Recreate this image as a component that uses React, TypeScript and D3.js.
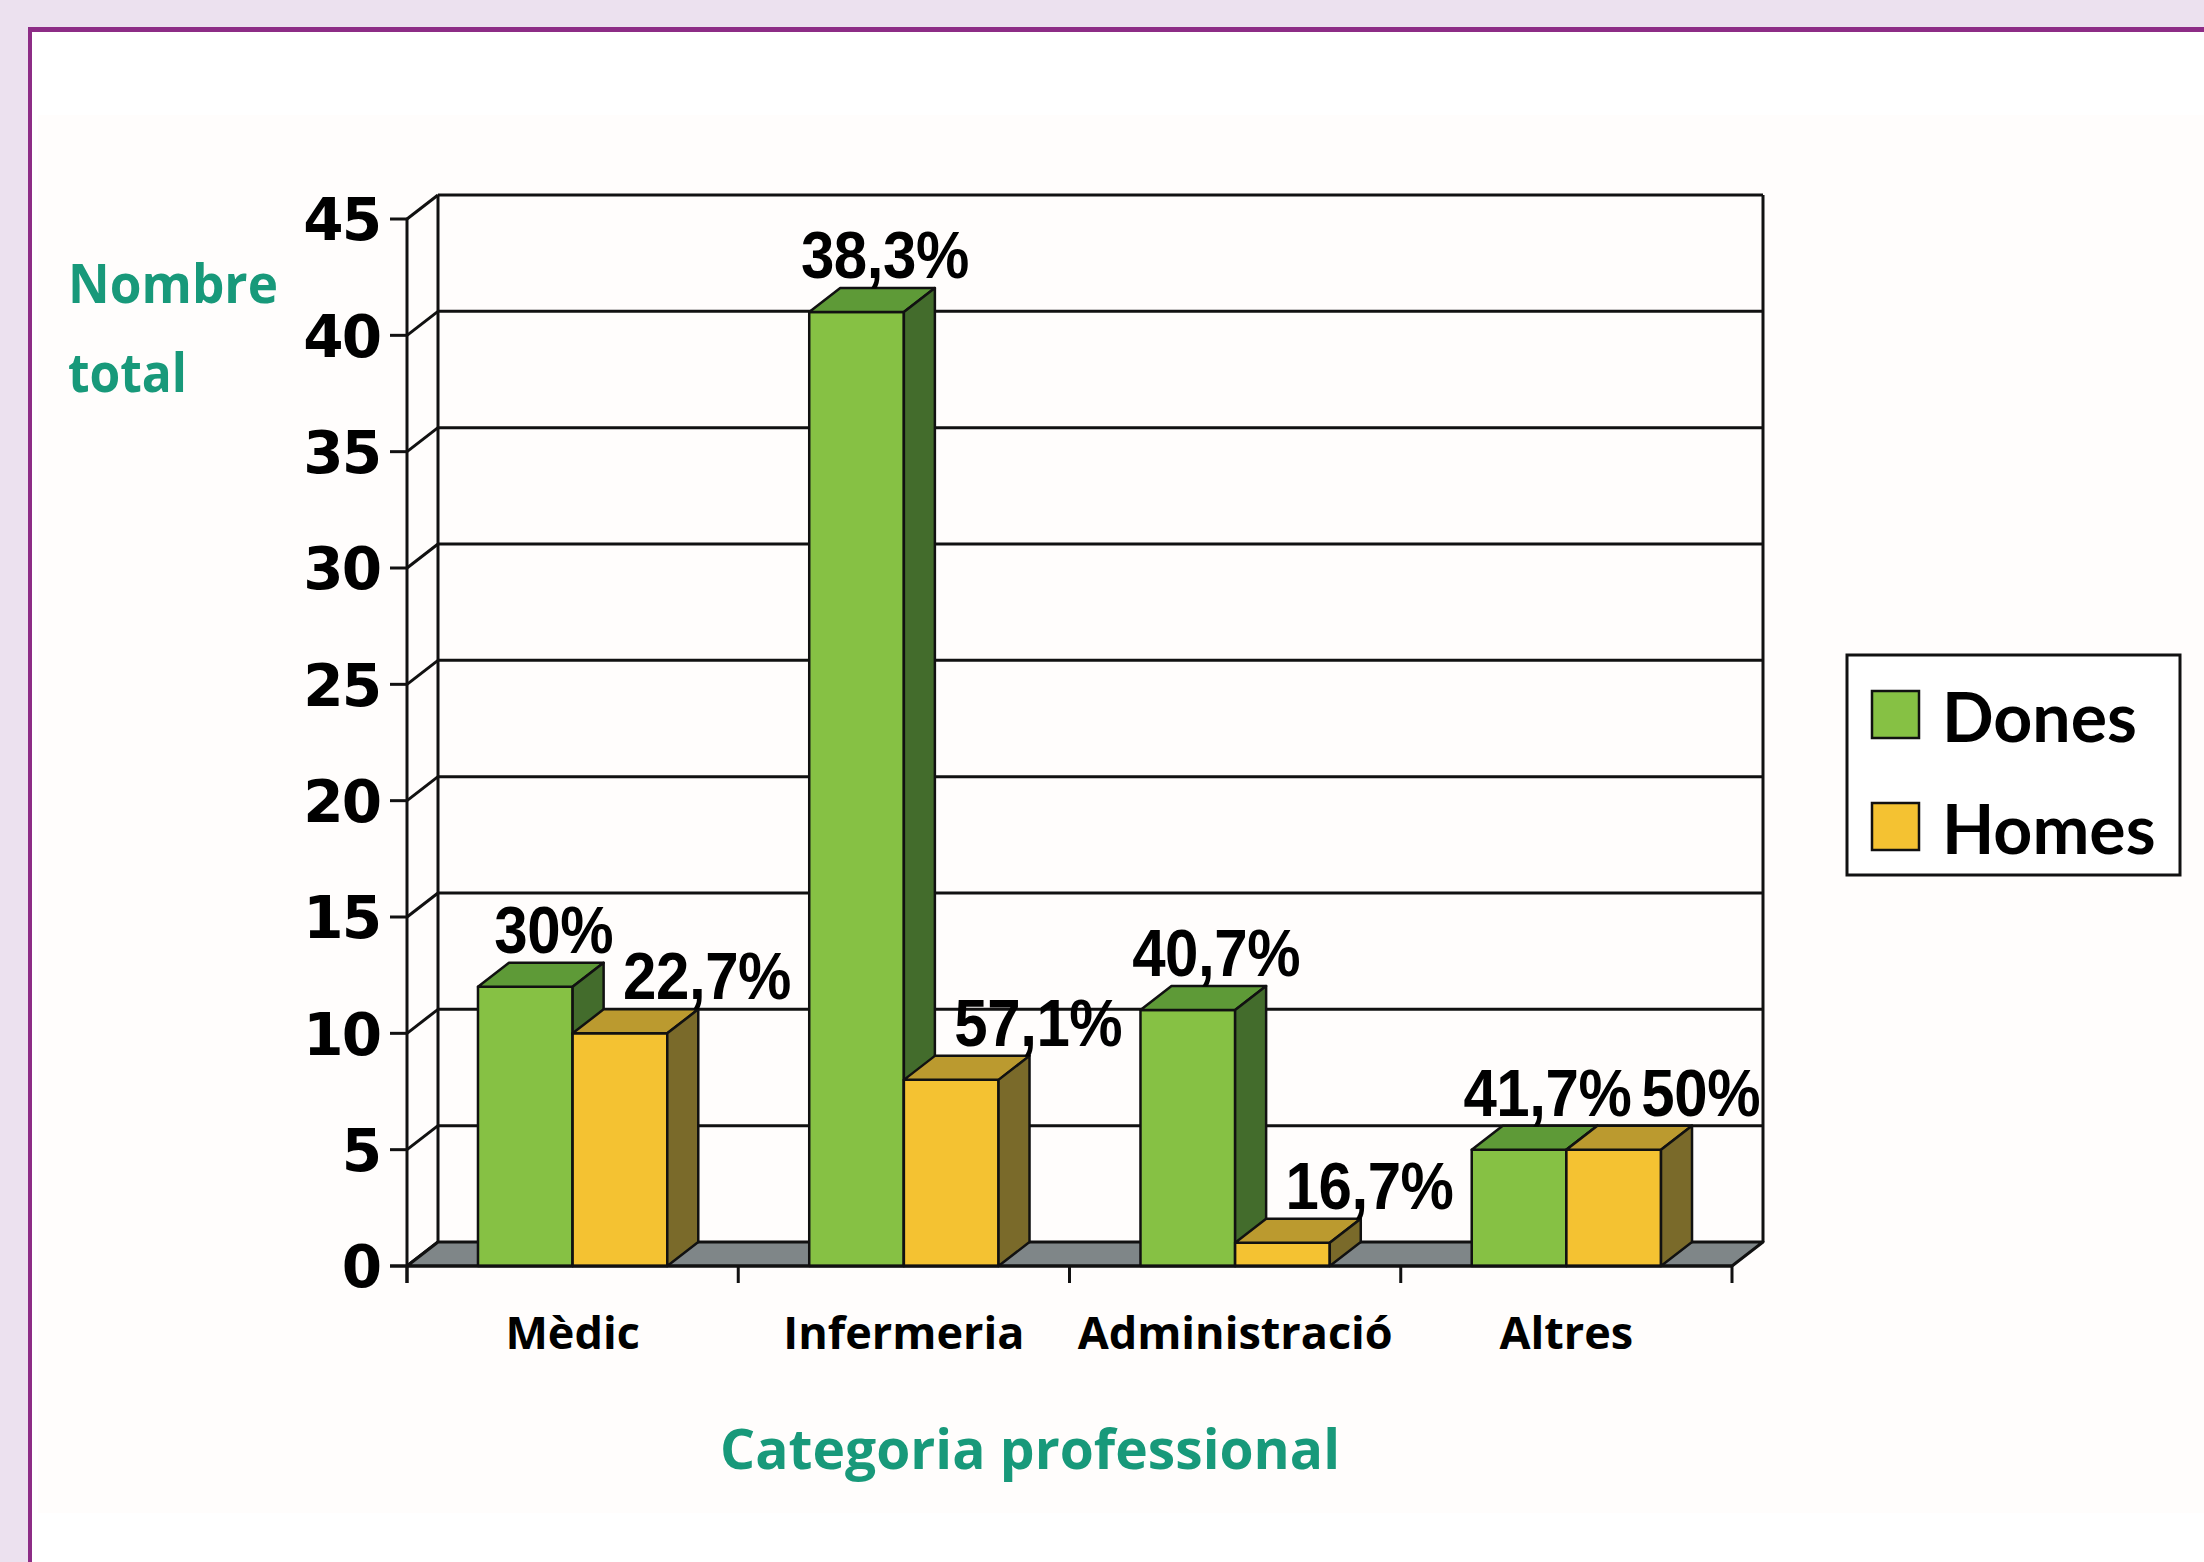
import React from "react";
import * as d3 from "d3";

// ---- data ----
const categories = ["Mèdic", "Infermeria", "Administració", "Altres"];
const seriesNames = ["Dones", "Homes"];
const donesValues = [12, 41, 11, 5];
const homesValues = [10, 8, 1, 5];
const donesLabels = ["30%", "38,3%", "40,7%", "41,7%"];
const homesLabels = ["22,7%", "57,1%", "16,7%", "50%"];
const yTicks = [0, 5, 10, 15, 20, 25, 30, 35, 40, 45];
const yTitle = ["Nombre", "total"];
const xTitle = "Categoria professional";

// ---- layout / style ----
const W = 2204;
const H = 1562;
const X0 = 407;
const X1 = 1732;
const Y0 = 1266;
const YTOP = 219;
const DX = 31;
const DY = 24;
const TICK = 17;

const colors: Record<string, { front: string; top: string; side: string }> = {
  Dones: { front: "#86c144", top: "#5e9a37", side: "#436c2c" },
  Homes: { front: "#f4c232", top: "#bb9a2f", side: "#7a6a2a" },
};
const labelShift: Record<string, number> = { Dones: 0.8, Homes: 1.42 };
const TEAL = "#18997a";
const INK = "#111";

export default function App() {
  const x = d3.scaleBand<string>().domain(categories).range([X0, X1]).padding(0);
  const xs = d3
    .scaleBand<string>()
    .domain(seriesNames)
    .range([0, x.step()])
    .paddingInner(0)
    .paddingOuter(0.75);
  const y = d3.scaleLinear().domain([0, 45]).range([Y0, YTOP]);
  const bw = xs.bandwidth();

  const valuesBy: Record<string, number[]> = { Dones: donesValues, Homes: homesValues };
  const labelsBy: Record<string, string[]> = { Dones: donesLabels, Homes: homesLabels };

  const bars = categories.flatMap((c, i) =>
    seriesNames.map((s) => ({
      key: c + s,
      s,
      x: (x(c) as number) + (xs(s) as number),
      v: valuesBy[s][i],
      label: labelsBy[s][i],
    }))
  );

  const pts = (a: number[][]) => a.map((p) => p.join(",")).join(" ");
  const boundaries = d3.range(categories.length + 1).map((i) => X0 + i * x.step());

  return (
    <svg
      width={W}
      height={H}
      viewBox={`0 0 ${W} ${H}`}
      style={{ position: "absolute", left: 0, top: 0, display: "block" }}
    >
      {/* page background & panel */}
      <rect x={0} y={0} width={W} height={H} fill="#ece1ef" />
      <rect x={28} y={27} width={W - 28} height={H - 27} fill="#ffffff" />
      <rect x={38} y={115} width={W - 38} height={1398} fill="#fffdfc" />
      <rect x={28} y={27} width={W - 28} height={5} fill="#8d2c86" />
      <rect x={28} y={27} width={4} height={H - 27} fill="#8d2c86" />

      {/* back wall gridlines */}
      {yTicks
        .filter((t) => t > 0)
        .map((t) => (
          <line
            key={"g" + t}
            x1={X0 + DX}
            x2={X1 + DX}
            y1={y(t) - DY}
            y2={y(t) - DY}
            stroke={INK}
            strokeWidth={3}
          />
        ))}
      {/* side wall diagonals */}
      {yTicks.map((t) => (
        <line
          key={"d" + t}
          x1={X0}
          y1={y(t)}
          x2={X0 + DX}
          y2={y(t) - DY}
          stroke={INK}
          strokeWidth={3}
        />
      ))}
      {/* back wall verticals */}
      <line x1={X0 + DX} x2={X0 + DX} y1={y(45) - DY} y2={Y0 - DY} stroke={INK} strokeWidth={3} />
      <line x1={X1 + DX} x2={X1 + DX} y1={y(45) - DY} y2={Y0 - DY} stroke={INK} strokeWidth={3} />

      {/* floor */}
      <polygon
        points={pts([
          [X0, Y0],
          [X1, Y0],
          [X1 + DX, Y0 - DY],
          [X0 + DX, Y0 - DY],
        ])}
        fill="#7f8688"
        stroke={INK}
        strokeWidth={3}
        strokeLinejoin="round"
      />

      {/* bars */}
      {bars.map((b) => {
        const yt = y(b.v);
        const c = colors[b.s];
        return (
          <g key={b.key} stroke={INK} strokeWidth={2.5} strokeLinejoin="round">
            <rect x={b.x} y={yt} width={bw} height={Y0 - yt} fill={c.front} />
            <polygon
              points={pts([
                [b.x, yt],
                [b.x + DX, yt - DY],
                [b.x + bw + DX, yt - DY],
                [b.x + bw, yt],
              ])}
              fill={c.top}
            />
            <polygon
              points={pts([
                [b.x + bw, yt],
                [b.x + bw + DX, yt - DY],
                [b.x + bw + DX, Y0 - DY],
                [b.x + bw, Y0],
              ])}
              fill={c.side}
            />
          </g>
        );
      })}

      {/* front axes */}
      <line x1={X0} x2={X0} y1={y(45)} y2={Y0 + TICK} stroke={INK} strokeWidth={3} />
      <line x1={X0 - TICK} x2={X1} y1={Y0} y2={Y0} stroke={INK} strokeWidth={3} />
      {yTicks.map((t) => (
        <line key={"t" + t} x1={X0 - TICK} x2={X0} y1={y(t)} y2={y(t)} stroke={INK} strokeWidth={3} />
      ))}
      {boundaries.map((bx, i) => (
        <line key={"xt" + i} x1={bx} x2={bx} y1={Y0} y2={Y0 + TICK} stroke={INK} strokeWidth={3} />
      ))}

      {/* y tick labels */}
      {yTicks.map((t) => (
        <text
          key={"yl" + t}
          x={X0 - 27}
          y={y(t)}
          dy="0.37em"
          textAnchor="end"
          fontFamily="DejaVu Sans"
          fontWeight="bold"
          fontSize={58}
          letterSpacing={-2}
          fill="#000"
        >
          {t}
        </text>
      ))}

      {/* category labels */}
      {categories.map((c) => (
        <text
          key={"cl" + c}
          x={(x(c) as number) + x.bandwidth() / 2}
          y={1349}
          textAnchor="middle"
          fontFamily="Open Sans"
          fontWeight={700}
          fontSize={45}
          fill="#000"
        >
          {c}
        </text>
      ))}

      {/* data labels */}
      {bars.map((b) => {
        const ly = y(b.v) - DY - 10;
        return (
          <text
            key={"dl" + b.key}
            x={b.x + bw * labelShift[b.s]}
            y={ly}
            textAnchor="middle"
            fontFamily="Liberation Sans"
            fontWeight="bold"
            fontSize={60}
            letterSpacing={-0.4}
            fill="#000"
            transform={`translate(0, ${ly}) scale(1, 1.1) translate(0, ${-ly})`}
          >
            {b.label}
          </text>
        );
      })}

      {/* axis titles */}
      <text
        x={68}
        y={303}
        fontFamily="Open Sans"
        fontWeight={700}
        fontSize={54}
        fill={TEAL}
        textLength={210}
        lengthAdjust="spacingAndGlyphs"
      >
        {yTitle[0]}
      </text>
      <text
        x={68}
        y={392}
        fontFamily="Open Sans"
        fontWeight={700}
        fontSize={54}
        fill={TEAL}
        textLength={119}
        lengthAdjust="spacingAndGlyphs"
      >
        {yTitle[1]}
      </text>
      <text
        x={720}
        y={1469}
        fontFamily="Open Sans"
        fontWeight={700}
        fontSize={56}
        fill={TEAL}
        textLength={620}
        lengthAdjust="spacingAndGlyphs"
      >
        {xTitle}
      </text>

      {/* legend */}
      <rect x={1847} y={655} width={333} height={220} fill="#fff" stroke={INK} strokeWidth={3} />
      {seriesNames.map((s, i) => (
        <g key={"lg" + s}>
          <rect
            x={1872}
            y={691 + i * 112}
            width={47}
            height={47}
            fill={colors[s].front}
            stroke={INK}
            strokeWidth={2.5}
          />
          <text
            x={1942}
            y={742 + i * 112}
            fontFamily="Lato"
            fontWeight={700}
            fontSize={68}
            fill="#000"
          >
            {s}
          </text>
        </g>
      ))}
    </svg>
  );
}
